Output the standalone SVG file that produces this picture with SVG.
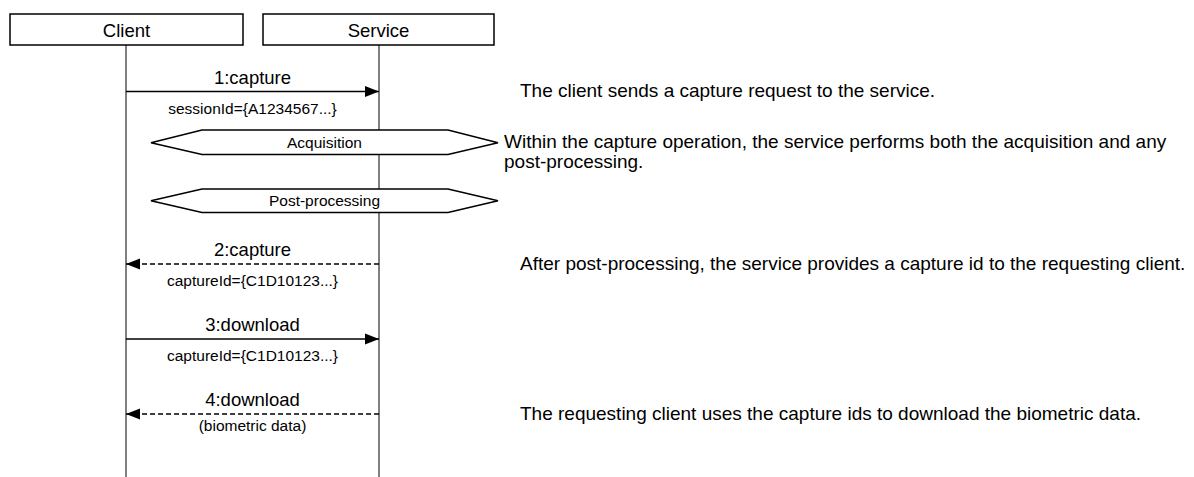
<svg xmlns="http://www.w3.org/2000/svg" width="1194" height="477" viewBox="0 0 1194 477">
  <style>
    text { font-family: "Liberation Sans", Arial, sans-serif; fill: #000; }
    .head { font-size: 18.5px; text-anchor: middle; }
    .msg { font-size: 18.5px; text-anchor: middle; }
    .arg { font-size: 15.5px; text-anchor: middle; }
    .frag { font-size: 15.5px; text-anchor: middle; }
    .note { font-size: 19px; }
    .box { fill: #fff; stroke: #000; stroke-width: 1.5; }
    .life { stroke: #000; stroke-width: 1; }
    .call { stroke: #000; stroke-width: 1.6; fill: none; }
    .reply { stroke: #000; stroke-width: 1.6; fill: none; stroke-dasharray: 5 3; }
    .hex { fill: #fff; stroke: #000; stroke-width: 1.5; }
  </style>
  <defs>
    <marker id="head" markerUnits="userSpaceOnUse" markerWidth="15" markerHeight="12" refX="14" refY="6" orient="auto">
      <path d="M0,0.5 L14,6 L0,11.5 Z" fill="#000"/>
    </marker>
  </defs>

  <rect width="1194" height="477" fill="#fff"/>

  <!-- lifelines -->
  <g id="lifelines">
    <line class="life" x1="126" y1="45" x2="126" y2="477"/>
    <line class="life" x1="379" y1="45" x2="379" y2="477"/>
  </g>

  <g id="client">
    <rect class="box" x="10" y="14" width="233" height="31"/>
    <text class="head" x="126.5" y="37">Client</text>
  </g>

  <g id="service">
    <rect class="box" x="263" y="14" width="231" height="31"/>
    <text class="head" x="378.5" y="37">Service</text>
  </g>

  <g id="acquisition">
    <polygon class="hex" points="151,142.7 202,130 448,130 498,142.7 448,154.5 202,154.5"/>
    <text class="frag" x="324.5" y="147.5">Acquisition</text>
  </g>

  <g id="post-processing">
    <polygon class="hex" points="151,200.7 202,189 448,189 498,200.7 448,212.5 202,212.5"/>
    <text class="frag" x="324.5" y="206">Post-processing</text>
  </g>

  <!-- messages -->
  <g id="connectors">
    <line class="call" x1="126" y1="91.5" x2="379" y2="91.5" marker-end="url(#head)"/>
    <line class="reply" x1="379" y1="264" x2="126" y2="264" marker-end="url(#head)"/>
    <line class="call" x1="126" y1="339" x2="379" y2="339" marker-end="url(#head)"/>
    <line class="reply" x1="379" y1="414" x2="126" y2="414" marker-end="url(#head)"/>
  </g>

  <g id="message-labels">
    <text class="msg" x="252.5" y="84">1:capture</text>
    <text class="arg" x="252.5" y="114">sessionId={A1234567...}</text>
    <text class="msg" x="252.5" y="256">2:capture</text>
    <text class="arg" x="252.5" y="285.5">captureId={C1D10123...}</text>
    <text class="msg" x="252.5" y="331">3:download</text>
    <text class="arg" x="252.5" y="360.5">captureId={C1D10123...}</text>
    <text class="msg" x="252.5" y="406">4:download</text>
    <text class="arg" x="252.5" y="431">(biometric data)</text>
  </g>

  <g id="notes">
    <text class="note" x="520" y="97">The client sends a capture request to the service.</text>
    <text class="note" x="504" y="148">Within the capture operation, the service performs both the acquisition and any</text>
    <text class="note" x="504" y="168">post-processing.</text>
    <text class="note" x="520" y="270">After post-processing, the service provides a capture id to the requesting client.</text>
    <text class="note" x="520" y="420">The requesting client uses the capture ids to download the biometric data.</text>
  </g>
</svg>
